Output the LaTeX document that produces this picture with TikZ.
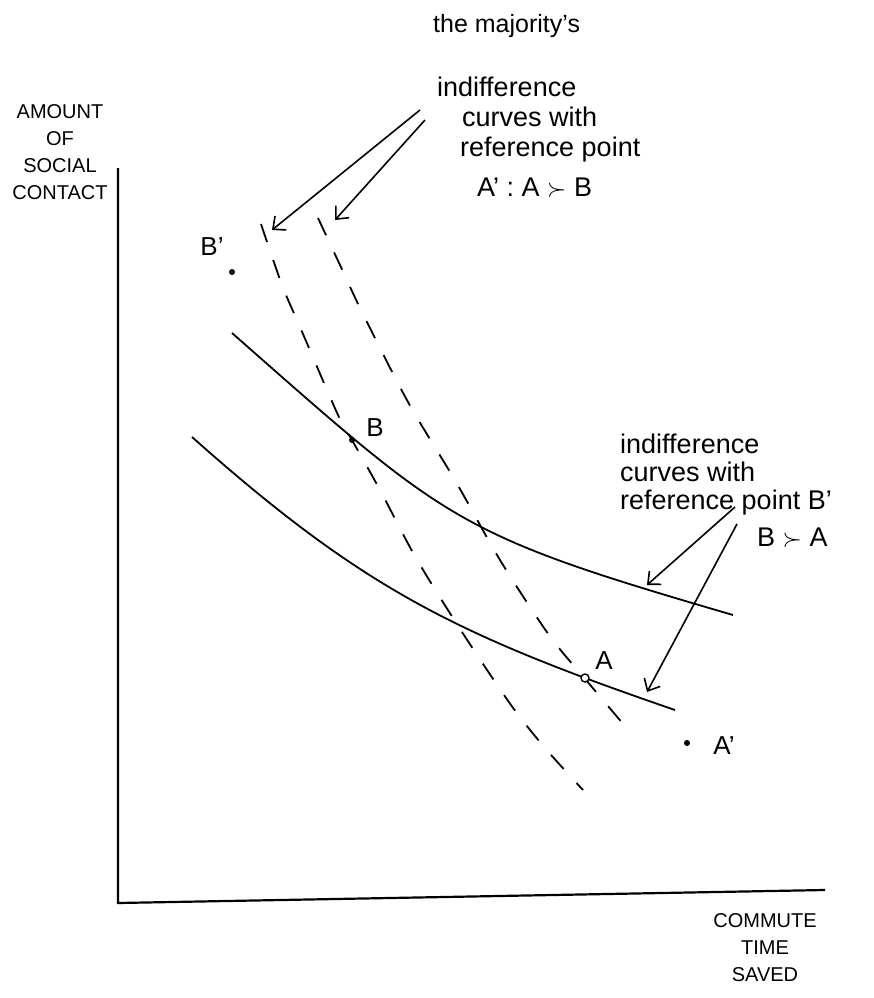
\documentclass[tikz,border=0pt]{standalone}
\usepackage{fontspec}
\setmainfont{Liberation Sans}
\usetikzlibrary{arrows.meta}

\begin{document}
\begin{tikzpicture}[
  x=1pt,y=-1pt,
  >={Straight Barb[length=10pt,width=18pt]},
  axis/.style={line width=2.2pt},
  indiff/.style={line width=1.8pt},
  refcurve/.style={line width=1.8pt,dash pattern=on 19pt off 19pt},
  ptr/.style={->,line width=1.6pt},
  dot/.style={circle,fill,inner sep=0pt,minimum size=6pt},
  ring/.style={circle,draw,fill=white,line width=1.4pt,inner sep=0pt,minimum size=8pt},
  note/.style={align=left,font=\fontsize{27}{30}\selectfont,inner sep=0pt,anchor=north west},
  axlab/.style={align=center,font=\fontsize{20}{27}\selectfont,inner sep=0pt},
  lab/.style={font=\fontsize{26}{30}\selectfont,inner sep=0pt}
]
\useasboundingbox (0,0) rectangle (874,998);
\coordinate (ytop) at (118,168);
\coordinate (o) at (118,903);
\coordinate (xend) at (825,890);
\draw[axis] (ytop) -- (o) -- (xend);
\node[axlab] (ylab) at (60,152) {AMOUNT\\OF\\SOCIAL\\CONTACT};
\node[axlab] (xlab) at (765,948) {COMMUTE\\TIME\\SAVED};
\draw[refcurve] plot[smooth] coordinates {(261,224) (282,285) (300,327) (338,415) (352,440) (380,490) (416,558) (462,632) (511,705) (545,748) (583,790)};
\draw[refcurve] plot[smooth] coordinates {(318,218) (340,265) (362,312) (408,402) (456,482) (500,560) (549,635) (586,680) (630,732)};
\draw[indiff] (232,333) .. controls (449,524) and (455,534) .. (733,615);
\draw[indiff] (192,437) .. controls (364,590) and (457,635) .. (675,710);
\node[dot] (B) at (352,440) {};
\node[ring] (A) at (585,678) {};
\node[dot] (Bp) at (232,272) {};
\node[dot] (Ap) at (687,743) {};
\node[lab] (Blab) at (375,428) {B};
\node[lab] (Alab) at (604,661) {A};
\node[lab] (Bplab) at (212,247) {B'};
\node[lab] (Aplab) at (724,746) {A'};
\node[note,anchor=base west,font=\fontsize{25}{30}\selectfont] (major) at (433,33) {the majority's};
\node[note] (refA) at (437,77) {indifference\\\hspace{25pt}curves with\\\hspace{23pt}reference point\\[10pt]\hspace{40pt}A' : A $\succ$ B};
\node[note,font=\fontsize{27}{28}\selectfont] (refB) at (620,434) {indifference\\curves with\\reference point B'\\[9pt]\hspace{137pt}B $\succ$ A};
\coordinate (tA1) at (420,110);
\coordinate (tA2) at (425,120);
\coordinate (hA1) at (272,230);
\coordinate (hA2) at (335,220);
\coordinate (tB1) at (735,507);
\coordinate (tB2) at (737,524);
\coordinate (hB1) at (647,585);
\coordinate (hB2) at (647,692);
\draw[ptr] (tA1) -- (hA1);
\draw[ptr] (tA2) -- (hA2);
\draw[ptr] (tB1) -- (hB1);
\draw[ptr] (tB2) -- (hB2);
\end{tikzpicture}
\end{document}
